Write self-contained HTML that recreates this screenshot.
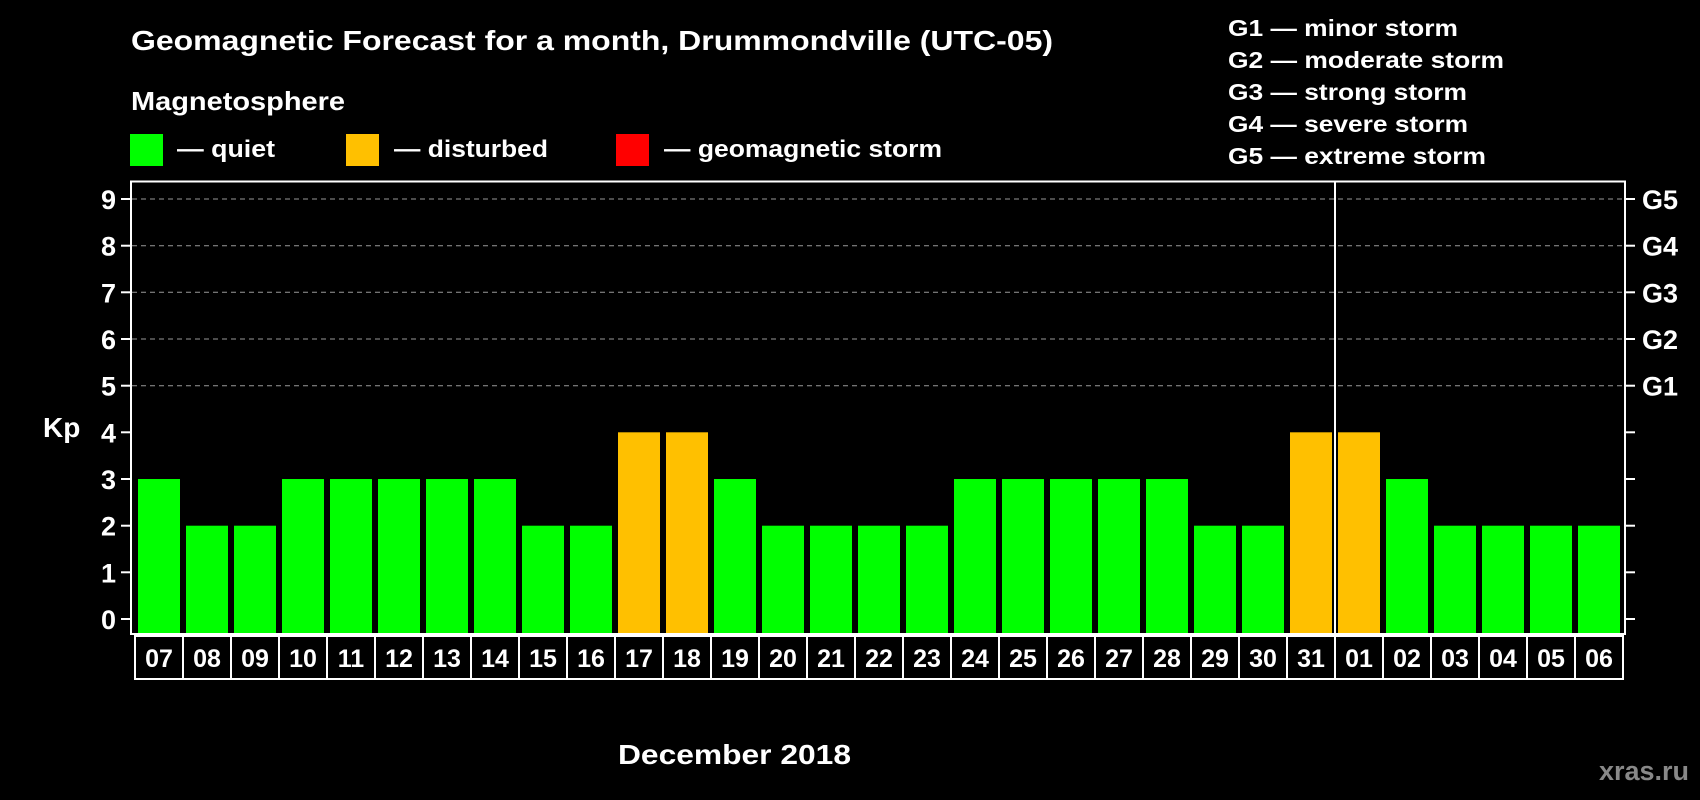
<!DOCTYPE html>
<html><head><meta charset="utf-8"><style>html,body{margin:0;padding:0;background:#000}svg{display:block}</style></head>
<body>
<svg width="1700" height="800" viewBox="0 0 1700 800" xmlns="http://www.w3.org/2000/svg" font-family="Liberation Sans, Arial, sans-serif" font-weight="bold" fill="#fff">
<rect width="1700" height="800" fill="#000"/>
<text x="131" y="50" font-size="28" textLength="922" lengthAdjust="spacingAndGlyphs">Geomagnetic Forecast for a month, Drummondville (UTC-05)</text>
<text x="131" y="110" font-size="26" textLength="214" lengthAdjust="spacingAndGlyphs">Magnetosphere</text>
<rect x="130" y="134" width="33" height="32" fill="#00ff00"/>
<text x="177" y="157" font-size="24" textLength="98" lengthAdjust="spacingAndGlyphs">— quiet</text>
<rect x="346" y="134" width="33" height="32" fill="#ffc000"/>
<text x="394" y="157" font-size="24" textLength="154" lengthAdjust="spacingAndGlyphs">— disturbed</text>
<rect x="616" y="134" width="33" height="32" fill="#ff0000"/>
<text x="664" y="157" font-size="24" textLength="278" lengthAdjust="spacingAndGlyphs">— geomagnetic storm</text>
<g font-size="23">
<text x="1228" y="36" textLength="230" lengthAdjust="spacingAndGlyphs">G1 — minor storm</text>
<text x="1228" y="68" textLength="276" lengthAdjust="spacingAndGlyphs">G2 — moderate storm</text>
<text x="1228" y="100" textLength="239" lengthAdjust="spacingAndGlyphs">G3 — strong storm</text>
<text x="1228" y="132" textLength="240" lengthAdjust="spacingAndGlyphs">G4 — severe storm</text>
<text x="1228" y="164" textLength="258" lengthAdjust="spacingAndGlyphs">G5 — extreme storm</text>
</g>
<g stroke="#999" stroke-width="1" stroke-dasharray="5,4">
<line x1="132" y1="199" x2="1624" y2="199"/><line x1="132" y1="245.7" x2="1624" y2="245.7"/><line x1="132" y1="292.3" x2="1624" y2="292.3"/><line x1="132" y1="339" x2="1624" y2="339"/><line x1="132" y1="385.7" x2="1624" y2="385.7"/>
</g>
<g fill="#00ff00">
<rect x="138" y="479" width="42" height="155"/>
<rect x="186" y="525.7" width="42" height="108.3"/>
<rect x="234" y="525.7" width="42" height="108.3"/>
<rect x="282" y="479" width="42" height="155"/>
<rect x="330" y="479" width="42" height="155"/>
<rect x="378" y="479" width="42" height="155"/>
<rect x="426" y="479" width="42" height="155"/>
<rect x="474" y="479" width="42" height="155"/>
<rect x="522" y="525.7" width="42" height="108.3"/>
<rect x="570" y="525.7" width="42" height="108.3"/>
<rect x="618" y="432.3" width="42" height="201.7" fill="#ffc000"/>
<rect x="666" y="432.3" width="42" height="201.7" fill="#ffc000"/>
<rect x="714" y="479" width="42" height="155"/>
<rect x="762" y="525.7" width="42" height="108.3"/>
<rect x="810" y="525.7" width="42" height="108.3"/>
<rect x="858" y="525.7" width="42" height="108.3"/>
<rect x="906" y="525.7" width="42" height="108.3"/>
<rect x="954" y="479" width="42" height="155"/>
<rect x="1002" y="479" width="42" height="155"/>
<rect x="1050" y="479" width="42" height="155"/>
<rect x="1098" y="479" width="42" height="155"/>
<rect x="1146" y="479" width="42" height="155"/>
<rect x="1194" y="525.7" width="42" height="108.3"/>
<rect x="1242" y="525.7" width="42" height="108.3"/>
<rect x="1290" y="432.3" width="42" height="201.7" fill="#ffc000"/>
<rect x="1338" y="432.3" width="42" height="201.7" fill="#ffc000"/>
<rect x="1386" y="479" width="42" height="155"/>
<rect x="1434" y="525.7" width="42" height="108.3"/>
<rect x="1482" y="525.7" width="42" height="108.3"/>
<rect x="1530" y="525.7" width="42" height="108.3"/>
<rect x="1578" y="525.7" width="42" height="108.3"/>
</g>
<rect x="131" y="181.5" width="1494" height="452.5" fill="none" stroke="#fff" stroke-width="2"/>
<line x1="1335" y1="181" x2="1335" y2="634" stroke="#fff" stroke-width="2"/>
<g stroke="#fff" stroke-width="2">
<line x1="121" y1="619" x2="131" y2="619"/><line x1="121" y1="572.3" x2="131" y2="572.3"/><line x1="121" y1="525.7" x2="131" y2="525.7"/><line x1="121" y1="479" x2="131" y2="479"/><line x1="121" y1="432.3" x2="131" y2="432.3"/><line x1="121" y1="385.7" x2="131" y2="385.7"/><line x1="121" y1="339" x2="131" y2="339"/><line x1="121" y1="292.3" x2="131" y2="292.3"/><line x1="121" y1="245.7" x2="131" y2="245.7"/><line x1="121" y1="199" x2="131" y2="199"/>
<line x1="1625" y1="619" x2="1635" y2="619"/><line x1="1625" y1="572.3" x2="1635" y2="572.3"/><line x1="1625" y1="525.7" x2="1635" y2="525.7"/><line x1="1625" y1="479" x2="1635" y2="479"/><line x1="1625" y1="432.3" x2="1635" y2="432.3"/><line x1="1625" y1="385.7" x2="1635" y2="385.7"/><line x1="1625" y1="339" x2="1635" y2="339"/><line x1="1625" y1="292.3" x2="1635" y2="292.3"/><line x1="1625" y1="245.7" x2="1635" y2="245.7"/><line x1="1625" y1="199" x2="1635" y2="199"/>
</g>
<g font-size="27" text-anchor="end">
<text x="116" y="629">0</text><text x="116" y="582.3">1</text><text x="116" y="535.7">2</text><text x="116" y="489">3</text><text x="116" y="442.3">4</text><text x="116" y="395.7">5</text><text x="116" y="349">6</text><text x="116" y="302.3">7</text><text x="116" y="255.7">8</text><text x="116" y="209">9</text>
</g>
<g font-size="27">
<text x="1642" y="395.7">G1</text><text x="1642" y="349">G2</text><text x="1642" y="302.3">G3</text><text x="1642" y="255.7">G4</text><text x="1642" y="209">G5</text>
</g>
<text x="43" y="437" font-size="28">Kp</text>
<g fill="none" stroke="#fff" stroke-width="2">
<rect x="135" y="636" width="1488" height="43"/>
<path d="M183 636V679M231 636V679M279 636V679M327 636V679M375 636V679M423 636V679M471 636V679M519 636V679M567 636V679M615 636V679M663 636V679M711 636V679M759 636V679M807 636V679M855 636V679M903 636V679M951 636V679M999 636V679M1047 636V679M1095 636V679M1143 636V679M1191 636V679M1239 636V679M1287 636V679M1335 636V679M1383 636V679M1431 636V679M1479 636V679M1527 636V679M1575 636V679"/>
</g>
<g font-size="25" text-anchor="middle">
<text x="159" y="667">07</text><text x="207" y="667">08</text><text x="255" y="667">09</text><text x="303" y="667">10</text><text x="351" y="667">11</text><text x="399" y="667">12</text><text x="447" y="667">13</text><text x="495" y="667">14</text><text x="543" y="667">15</text><text x="591" y="667">16</text><text x="639" y="667">17</text><text x="687" y="667">18</text><text x="735" y="667">19</text><text x="783" y="667">20</text><text x="831" y="667">21</text><text x="879" y="667">22</text><text x="927" y="667">23</text><text x="975" y="667">24</text><text x="1023" y="667">25</text><text x="1071" y="667">26</text><text x="1119" y="667">27</text><text x="1167" y="667">28</text><text x="1215" y="667">29</text><text x="1263" y="667">30</text><text x="1311" y="667">31</text><text x="1359" y="667">01</text><text x="1407" y="667">02</text><text x="1455" y="667">03</text><text x="1503" y="667">04</text><text x="1551" y="667">05</text><text x="1599" y="667">06</text>
</g>
<text x="618" y="764" font-size="28" textLength="233" lengthAdjust="spacingAndGlyphs">December 2018</text>
<text x="1599" y="780" font-size="27" fill="#888" textLength="90" lengthAdjust="spacingAndGlyphs">xras.ru</text>
</svg>
</body></html>
